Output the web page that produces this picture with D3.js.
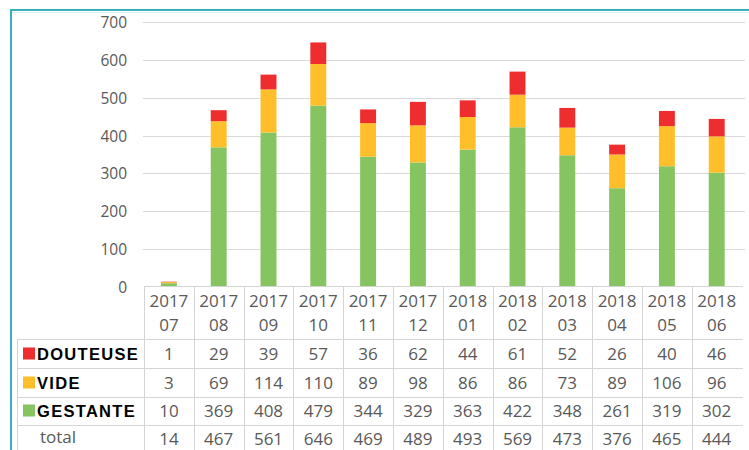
<!DOCTYPE html>
<html><head><meta charset="utf-8">
<script src="https://cdn.jsdelivr.net/npm/d3@7"></script>
<style>
html,body{margin:0;padding:0;background:#fff;}
svg{display:block;}
</style></head>
<body>
<script>
const monthsYear = ["2017","2017","2017","2017","2017","2017","2018","2018","2018","2018","2018","2018"];
const monthsMonth = ["07","08","09","10","11","12","01","02","03","04","05","06"];
const categories = monthsYear.map((y,i)=>y+monthsMonth[i]);
const douteuse = [1,29,39,57,36,62,44,61,52,26,40,46];
const vide = [3,69,114,110,89,98,86,86,73,89,106,96];
const gestante = [10,369,408,479,344,329,363,422,348,261,319,302];
const totals = [14,467,561,646,469,489,493,569,473,376,465,444];
const yTicks = [0,100,200,300,400,500,600,700];
const seriesNames = ["DOUTEUSE","VIDE","GESTANTE"];
const seriesColors = {"GESTANTE":"#86C462","VIDE":"#FEBF2B","DOUTEUSE":"#EE2D2F"};

const W=749,H=450;
const svg=d3.select("body").append("svg").attr("width",W).attr("height",H);

// frame
svg.append("line").attr("x1",11).attr("x2",W).attr("y1",10).attr("y2",10).attr("stroke","#3AAFBC").attr("stroke-width",2);
svg.append("line").attr("x1",11).attr("x2",W).attr("y1",12.5).attr("y2",12.5).attr("stroke","#d6eef1").attr("stroke-width",1);
svg.append("line").attr("x1",11).attr("x2",11).attr("y1",9).attr("y2",H).attr("stroke","#3AAFBC").attr("stroke-width",2);

const y=d3.scaleLinear().domain([0,700]).range([287,22]);
const col=d3.scaleBand().domain(categories).range([144,741.6]).padding(0);
const xb=d3.scaleBand().domain(categories).range([144,741.6]).paddingInner(0.68).paddingOuter(0.34);

// gridlines
svg.append("g").selectAll("line").data(yTicks.filter(d=>d>0)).join("line")
  .attr("x1",143).attr("x2",745).attr("y1",d=>Math.round(y(d))+0.5).attr("y2",d=>Math.round(y(d))+0.5)
  .attr("stroke","#d9d9d9").attr("stroke-width",1);

// y axis labels
const yAxis=d3.axisLeft(y).tickValues(yTicks).tickSize(0).tickPadding(0);
const ga=svg.append("g").attr("transform","translate(127,0)").call(yAxis);
ga.select(".domain").remove();
ga.selectAll("text").attr("font-family","'Open Sans',sans-serif").attr("font-size",15.5).attr("fill","#595959").attr("dy","0.35em");

// stacked bars
const rows=categories.map((c,i)=>({cat:c,GESTANTE:gestante[i],VIDE:vide[i],DOUTEUSE:douteuse[i]}));
const stack=d3.stack().keys(["GESTANTE","VIDE","DOUTEUSE"])(rows);
svg.append("g").selectAll("g").data(stack).join("g").attr("fill",d=>seriesColors[d.key])
  .selectAll("rect").data(d=>d).join("rect")
  .attr("x",d=>xb(d.data.cat)).attr("width",xb.bandwidth())
  .attr("y",d=>y(d[1])).attr("height",d=>y(d[0])-y(d[1]));

// table
const tbl=svg.append("g");
const lineColor="#d4d4d4";
const tableRight=743;
// header top line (axis)
tbl.append("line").attr("x1",144).attr("x2",tableRight).attr("y1",286.5).attr("y2",286.5).attr("stroke",lineColor);
const rowLines=[339.5,368.5,397.5,425.5];
rowLines.forEach(yy=>tbl.append("line").attr("x1",17).attr("x2",tableRight).attr("y1",yy).attr("y2",yy).attr("stroke",lineColor));
tbl.append("line").attr("x1",17.5).attr("x2",17.5).attr("y1",339).attr("y2",H).attr("stroke",lineColor);
categories.forEach((c,i)=>{
  const xx=Math.round(col(c))+0.5;
  tbl.append("line").attr("x1",xx).attr("x2",xx).attr("y1",286).attr("y2",H).attr("stroke",lineColor);
});
const tf="'Open Sans',sans-serif", ts=17, tc="#595959";
// header text
tbl.selectAll("text.hy").data(categories).join("text").attr("class","hy")
  .attr("x",d=>col(d)+col.bandwidth()/2).attr("y",307).attr("text-anchor","middle")
  .attr("font-family",tf).attr("font-size",ts).attr("fill",tc).text((d,i)=>monthsYear[i]);
tbl.selectAll("text.hm").data(categories).join("text").attr("class","hm")
  .attr("x",d=>col(d)+col.bandwidth()/2).attr("y",331).attr("text-anchor","middle")
  .attr("font-family",tf).attr("font-size",ts).attr("fill",tc).text((d,i)=>monthsMonth[i]);
const valueRows=[douteuse,vide,gestante,totals];
const baselines=[360,389,417,445];
valueRows.forEach((arr,r)=>{
  tbl.append("g").selectAll("text").data(arr).join("text")
    .attr("x",(d,i)=>col(categories[i])+col.bandwidth()/2).attr("y",baselines[r])
    .attr("text-anchor","middle").attr("font-family",tf).attr("font-size",ts).attr("fill",tc).text(d=>d);
});
// legend labels
seriesNames.forEach((name,r)=>{
  tbl.append("rect").attr("x",23).attr("y",baselines[r]-12.5).attr("width",12).attr("height",12).attr("fill",seriesColors[name]);
  tbl.append("text").attr("x",37).attr("y",baselines[r]).attr("font-family","'Liberation Sans',Arial,sans-serif")
    .attr("font-weight","bold").attr("font-size",16.5).attr("letter-spacing",1.3).attr("fill","#000").text(name);
});
tbl.append("text").attr("x",40).attr("y",443).attr("font-family",tf).attr("font-size",ts).attr("fill",tc).text("total");
</script>
</body></html>
